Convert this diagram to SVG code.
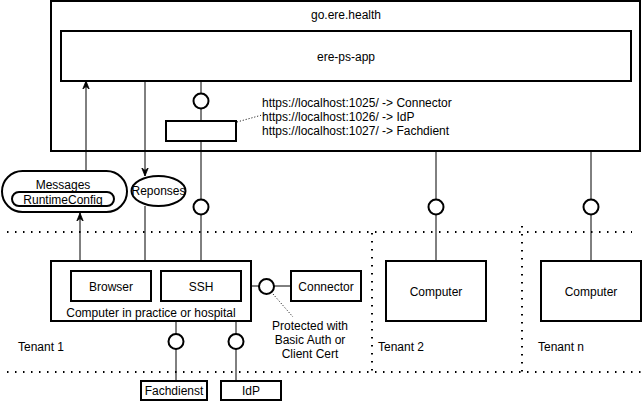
<svg xmlns="http://www.w3.org/2000/svg" width="643" height="402" viewBox="0 0 643 402">
<defs>
<style>
text{font-family:"Liberation Sans",Arial,sans-serif;font-size:12px;fill:#000}
.c{text-anchor:middle}
.box{fill:#fff;stroke:#000;stroke-width:2}
.ln{fill:none;stroke:#000;stroke-width:1}
.ball{fill:#fff;stroke:#000;stroke-width:2}
.dot{fill:none;stroke:#000;stroke-width:2;stroke-dasharray:1.5 6.5}
.hint{fill:none;stroke:#000;stroke-width:1;stroke-dasharray:1 2}
</style>
<marker id="arr" viewBox="0 0 10 10" refX="10" refY="5" markerWidth="8" markerHeight="8" markerUnits="userSpaceOnUse" orient="auto">
<path d="M0,1 L10,5 L0,9 L3,5 z" fill="#000" stroke="#000" stroke-width="1"/>
</marker>
</defs>

<g id="tenant-separators">
<line class="dot" x1="7" y1="232" x2="632" y2="232"/>
<line class="dot" x1="7" y1="372" x2="643" y2="372"/>
<line class="dot" x1="372" y1="233" x2="372" y2="372"/>
<line class="dot" x1="522" y1="226" x2="522" y2="372"/>
</g>

<g id="go-ere-health">
<rect class="box" x="51" y="1" width="589" height="150"/>
<text class="c" x="346" y="19">go.ere.health</text>
</g>
<g id="ere-ps-app">
<rect class="box" x="61" y="31" width="570" height="50"/>
<text class="c" x="346" y="61">ere-ps-app</text>
</g>

<g id="connectors">
<line class="ln" x1="201" y1="81" x2="201" y2="121"/>
<line class="ln" x1="201" y1="141" x2="201" y2="271"/>
<line class="ln" x1="436" y1="151" x2="436" y2="261"/>
<line class="ln" x1="591" y1="151" x2="591" y2="261"/>
<line class="ln" x1="86" y1="171" x2="86" y2="81" marker-end="url(#arr)"/>
<line class="ln" x1="80" y1="268" x2="80" y2="213" marker-end="url(#arr)"/>
<line class="ln" x1="145" y1="81" x2="145" y2="176" marker-end="url(#arr)"/>
<line class="ln" x1="145" y1="206" x2="145" y2="271" marker-end="url(#arr)"/>
<line class="ln" x1="241" y1="286" x2="291" y2="286"/>
<line class="ln" x1="176" y1="301" x2="176" y2="381"/>
<line class="ln" x1="236" y1="301" x2="236" y2="381"/>
<line class="hint" x1="237" y1="122" x2="262" y2="115"/>
<line class="hint" x1="273" y1="294" x2="293" y2="317" stroke="#555"/>
</g>

<g id="proxy">
<rect class="box" x="166" y="121" width="70" height="20"/>
</g>
<g id="proxy-routes">
<text x="262" y="107">https://localhost:1025/ -&gt; Connector</text>
<text x="262" y="121">https://localhost:1026/ -&gt; IdP</text>
<text x="262" y="135">https://localhost:1027/ -&gt; Fachdient</text>
</g>

<g id="interfaces">
<circle class="ball" cx="201" cy="101" r="7.5"/>
<circle class="ball" cx="201" cy="207" r="7.5"/>
<circle class="ball" cx="436" cy="207" r="7.5"/>
<circle class="ball" cx="591" cy="207" r="7.5"/>
<circle class="ball" cx="266.5" cy="286.5" r="7.5"/>
<circle class="ball" cx="176" cy="341.5" r="7.5"/>
<circle class="ball" cx="236" cy="341.5" r="7.5"/>
</g>

<g id="messages">
<rect class="box" x="2" y="171" width="125" height="41" rx="20.5"/>
<text class="c" x="63" y="189">Messages</text>
<rect class="box" x="12" y="192" width="102" height="14" rx="7"/>
<text class="c" x="63" y="203.5">RuntimeConfig</text>
</g>
<g id="reponses">
<ellipse class="box" cx="158.5" cy="191" rx="27" ry="15"/>
<text class="c" x="158.5" y="195">Reponses</text>
</g>

<g id="computer-practice">
<rect class="box" x="51" y="261" width="200" height="60"/>
<text class="c" x="151" y="316.5">Computer in practice or hospital</text>
</g>
<g id="browser">
<rect class="box" x="71" y="271" width="80" height="30"/>
<text class="c" x="111" y="290.5">Browser</text>
</g>
<g id="ssh">
<rect class="box" x="161" y="271" width="80" height="30"/>
<text class="c" x="201" y="290.5">SSH</text>
</g>
<g id="connector">
<rect class="box" x="291" y="271" width="70" height="30"/>
<text class="c" x="326" y="290.5">Connector</text>
</g>
<g id="protected-note">
<text class="c" x="310" y="330">Protected with</text>
<text class="c" x="310" y="344">Basic Auth or</text>
<text class="c" x="310" y="358">Client Cert</text>
</g>
<g id="fachdienst">
<rect class="box" x="141" y="381" width="66" height="19"/>
<text class="c" x="174" y="395">Fachdienst</text>
</g>
<g id="idp">
<rect class="box" x="221" y="381" width="60" height="19"/>
<text class="c" x="251" y="395">IdP</text>
</g>

<g id="computer-2">
<rect class="box" x="386" y="261" width="100" height="60"/>
<text class="c" x="436" y="296">Computer</text>
</g>
<g id="computer-n">
<rect class="box" x="541" y="261" width="100" height="60"/>
<text class="c" x="591" y="296">Computer</text>
</g>

<g id="tenant-labels">
<text x="18" y="351">Tenant 1</text>
<text x="378" y="351">Tenant 2</text>
<text x="538" y="351">Tenant n</text>
</g>
</svg>
